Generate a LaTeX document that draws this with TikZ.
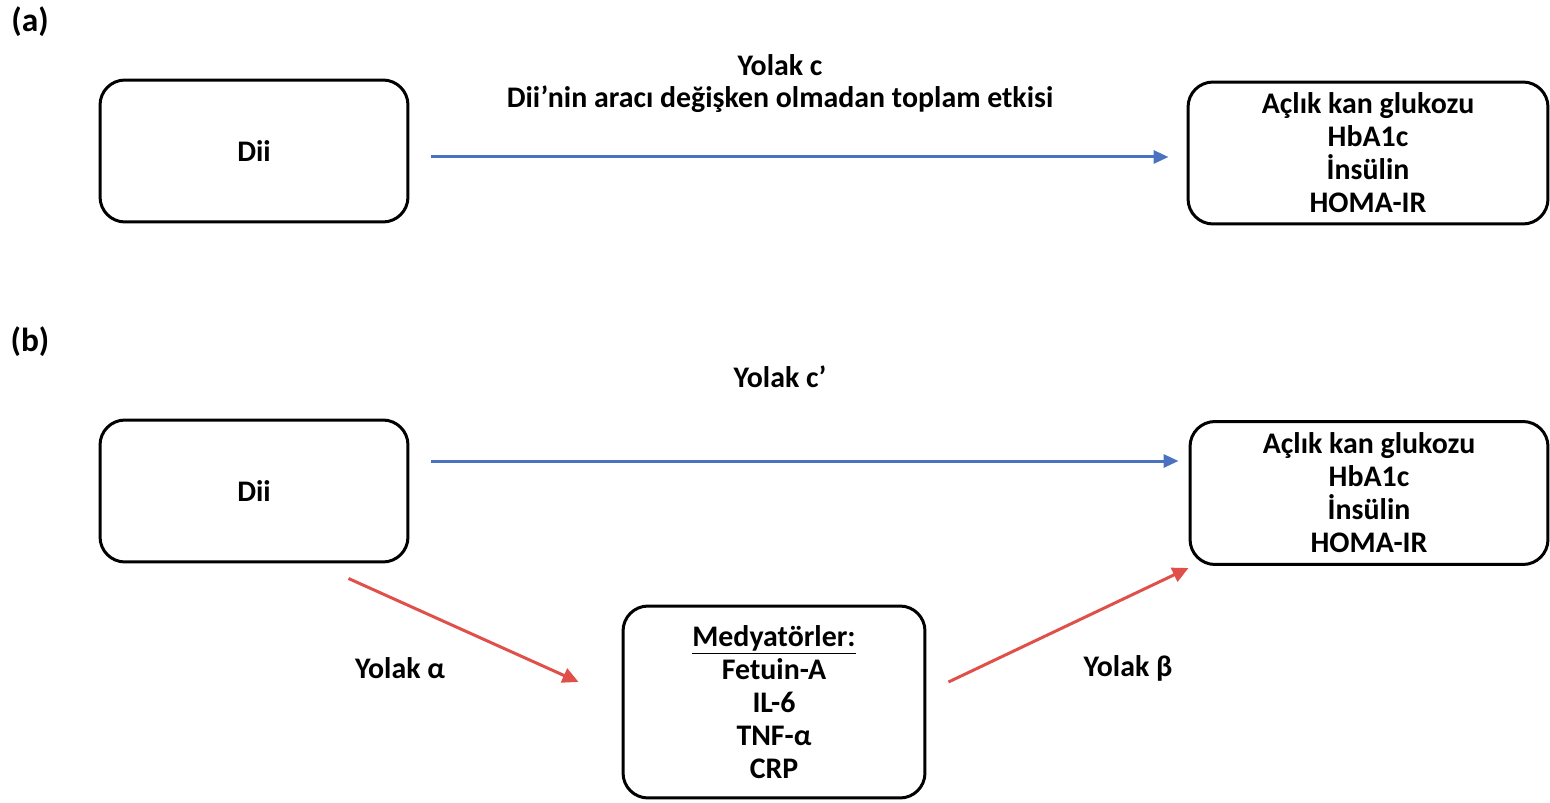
\documentclass[tikz,border=0pt]{standalone}
\usepackage{fontspec}
\setmainfont{Carlito}
\usetikzlibrary{arrows.meta, positioning, calc}
\definecolor{pathblue}{HTML}{4A72C0}
\definecolor{pathred}{HTML}{E0504A}

\tikzset{
  varbox/.style={draw, line width=0.06cm, rounded corners=0.5cm, align=center, inner sep=0pt, font=\fontsize{17}{18.8}\selectfont\bfseries},
  pathlabel/.style={align=center, font=\fontsize{17}{18.2}\selectfont\bfseries},
  bluepath/.style={draw=pathblue, line width=0.06cm, -{Triangle[length=0.3cm,width=0.26cm]}},
  redpath/.style={draw=pathred, line width=0.06cm, -{Triangle[length=0.32cm,width=0.3cm]}}
}

\begin{document}
\begin{tikzpicture}[x=0.02cm, y=-0.02cm]
  \useasboundingbox (0,0) rectangle (1550,803);

  % panel (a)
  \node[pathlabel, font=\fontsize{19}{20}\selectfont\bfseries] (tagA) at (30,22) {(a)};
  \node[varbox, minimum width=6.16cm, minimum height=2.84cm] (dii1) at (254,151) {Dii};
  \node[varbox, minimum width=7.2cm, minimum height=2.84cm] (out1) at (1368,153) {Açlık kan glukozu\\HbA1c\\İnsülin\\HOMA-IR};
  \node[pathlabel] (cLabel) at (780,84) {Yolak c\\Dii’nin aracı değişken olmadan toplam etkisi};
  \draw[bluepath] ([xshift=0.44cm,yshift=-0.12cm]dii1.east) -- ([xshift=-0.36cm,yshift=-0.12cm]dii1.east -| out1.west);

  % panel (b)
  \node[pathlabel, font=\fontsize{19}{20}\selectfont\bfseries] (tagB) at (30,342) {(b)};
  \node[varbox, minimum width=6.16cm, minimum height=2.84cm] (dii2) at (254,491) {Dii};
  \node[varbox, minimum width=7.16cm, minimum height=2.86cm] (out2) at (1369,493) {Açlık kan glukozu\\HbA1c\\İnsülin\\HOMA-IR};
  \node[varbox, minimum width=6.04cm, minimum height=3.84cm] (med) at (774,702) {\underline{Medyatörler:}\\Fetuin-A\\IL-6\\TNF-α\\CRP};
  \node[pathlabel] (cpLabel) at (780,377) {Yolak c’};
  \draw[bluepath] ([xshift=0.44cm,yshift=0.6cm]dii2.east) -- ([xshift=-0.2cm,yshift=0.6cm]dii2.east -| out2.west);

  \coordinate (alphaStart) at ([xshift=-1.22cm,yshift=-0.3cm]dii2.south east);
  \coordinate (alphaEnd) at ([xshift=-0.86cm,yshift=0.4cm]med.west);
  \coordinate (betaStart) at ([xshift=0.44cm,yshift=0.4cm]med.east);
  \coordinate (betaEnd) at ([yshift=-0.04cm]out2.south west);
  \draw[redpath] (alphaStart) -- (alphaEnd);
  \draw[redpath] (betaStart) -- (betaEnd);
  \node[pathlabel] (alphaLabel) at (400,668) {Yolak α};
  \node[pathlabel] (betaLabel) at (1128,668) {Yolak β};
\end{tikzpicture}
\end{document}
